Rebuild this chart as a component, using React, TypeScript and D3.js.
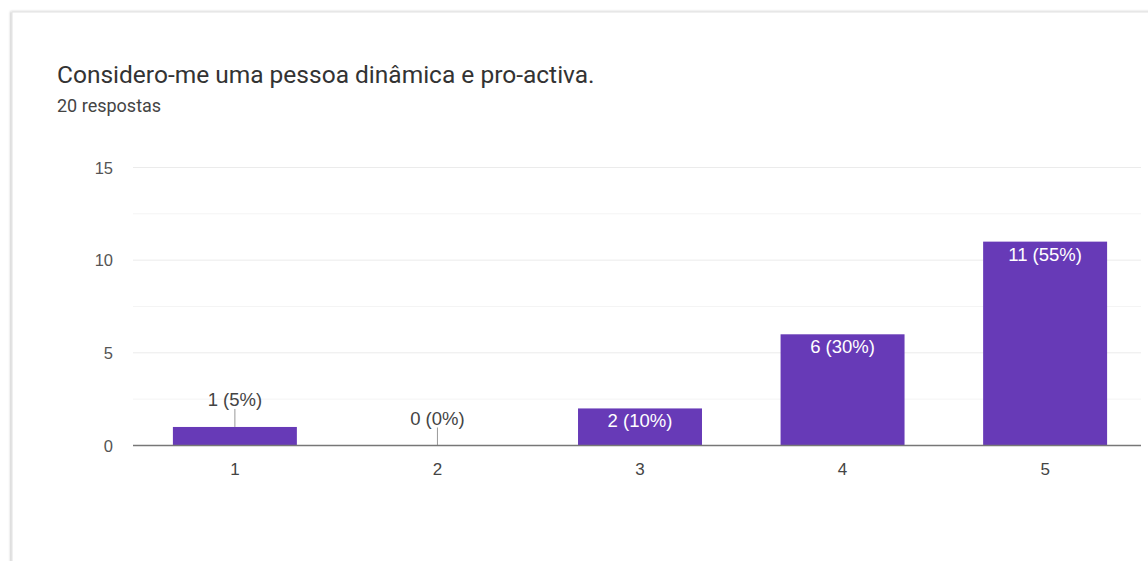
import React from "react";
import * as d3 from "d3";

const title = "Considero-me uma pessoa dinâmica e pro-activa.";
const subtitle = "20 respostas";
const categories = ["1", "2", "3", "4", "5"];
const counts = [1, 0, 2, 6, 11];
const percents = ["5%", "0%", "10%", "30%", "55%"];
const majorTicks = [0, 5, 10, 15];
const minorTicks = [2.5, 7.5, 12.5];

const W = 1148;
const H = 561;
const PURPLE = "#673ab7";

export default function App() {
  const x = d3
    .scaleBand<string>()
    .domain(categories)
    .range([133, 1147])
    .paddingInner(0.388)
    .paddingOuter(0.197);
  const y = d3.scaleLinear().domain([0, 15]).range([445.5, 167.5]);
  const gridX1 = 133;
  const gridX2 = 1141;
  const chartFont = "Arial, 'Liberation Sans', sans-serif";

  return (
    <div style={{ position: "absolute", left: 0, top: 0, width: W, height: H, background: "#fff" }}>
      <svg width={W} height={H} style={{ display: "block" }}>
        <defs>
          <filter id="sh" x="-5%" y="-5%" width="110%" height="110%">
            <feDropShadow dx="-1" dy="0" stdDeviation="1.2" floodColor="#000" floodOpacity="0.25" />
          </filter>
        </defs>
        <rect x={0} y={0} width={W} height={H} fill="#fff" />
        <rect x={12} y={12} width={W + 20} height={H + 20} fill="#fff" stroke="#e2e2e2" strokeWidth={1} filter="url(#sh)" />
        <text x={57} y={83} fontFamily="Roboto, sans-serif" fontSize={24.5} fill="#333">
          {title}
        </text>
        <text x={57} y={112} fontFamily="Roboto, sans-serif" fontSize={18} fill="#444">
          {subtitle}
        </text>
        {minorTicks.map((t) => (
          <line key={"m" + t} x1={gridX1} x2={gridX2} y1={y(t)} y2={y(t)} stroke="#f4f4f4" strokeWidth={1} />
        ))}
        {majorTicks.filter((t) => t !== 0).map((t) => (
          <line key={"g" + t} x1={gridX1} x2={gridX2} y1={y(t)} y2={y(t)} stroke="#ebebeb" strokeWidth={1} />
        ))}
        {majorTicks.map((t) => (
          <text key={"yl" + t} x={113} y={y(t) + 6} textAnchor="end" fontFamily={chartFont} fontSize={16.5} fill="#555">
            {t}
          </text>
        ))}
        {categories.map((c, i) => {
          const v = counts[i];
          const bx = x(c)!;
          const bw = x.bandwidth();
          const top = y(v);
          const cx = bx + bw / 2;
          const label = `${v} (${percents[i]})`;
          const inside = y(0) - top > 24;
          return (
            <g key={c}>
              {v > 0 && <rect x={bx} y={top} width={bw} height={y(0) - top} fill={PURPLE} />}
              {inside ? (
                <text x={cx} y={top + 19} textAnchor="middle" fontFamily={chartFont} fontSize={18.5} fill="#fff">
                  {label}
                </text>
              ) : (
                <g>
                  <line x1={cx} x2={cx} y1={top} y2={top - 18} stroke="#999" strokeWidth={1} />
                  <text x={cx} y={top - 21} textAnchor="middle" fontFamily={chartFont} fontSize={18.5} fill="#444">
                    {label}
                  </text>
                </g>
              )}
              <text x={cx} y={y(0) + 29} textAnchor="middle" fontFamily={chartFont} fontSize={17} fill="#444">
                {c}
              </text>
            </g>
          );
        })}
        <line x1={gridX1} x2={gridX2} y1={y(0)} y2={y(0)} stroke="#777" strokeWidth={1.5} />
      </svg>
    </div>
  );
}
